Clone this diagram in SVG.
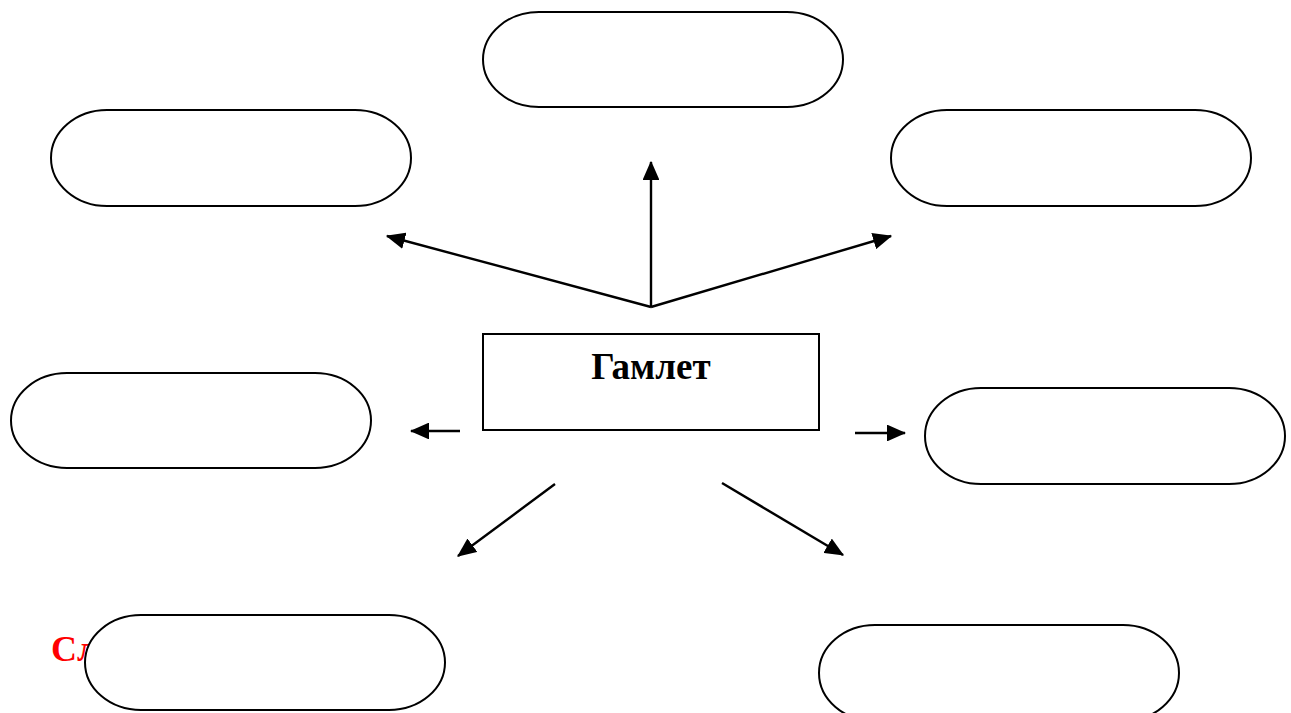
<svg xmlns="http://www.w3.org/2000/svg" width="1291" height="713" viewBox="0 0 1291 713">
<style>
.n{fill:#fff;stroke:#000;stroke-width:2}
.c{stroke:#000;stroke-width:2.4;fill:none;marker-end:url(#ah)}
.t{font-family:"Liberation Serif","Times New Roman",serif;font-weight:bold}
</style>
<defs>
<marker id="ah" markerWidth="8" markerHeight="7" refX="7.5" refY="3.5" orient="auto" markerUnits="strokeWidth">
<path d="M0,0 L8,3.5 L0,7 Z" fill="#000"/>
</marker>
</defs>
<rect width="1291" height="713" fill="#fff"/>
<text class="t" x="51" y="661" font-size="36" fill="#ff0000">Сл</text>
<g id="connectors">
<line class="c" x1="651" y1="307" x2="651" y2="162"/>
<line class="c" x1="651" y1="307" x2="387" y2="236"/>
<line class="c" x1="651" y1="307" x2="891" y2="236"/>
<line class="c" x1="460" y1="431" x2="411" y2="431"/>
<line class="c" x1="855" y1="433" x2="905" y2="433"/>
<line class="c" x1="555" y1="484" x2="458" y2="556"/>
<line class="c" x1="722" y1="483" x2="843" y2="555"/>
</g>
<g id="node-top"><rect class="n" x="483" y="12" width="360" height="95" rx="56" ry="47.5"/></g>
<g id="node-top-left"><rect class="n" x="51" y="110" width="360" height="96" rx="56" ry="48"/></g>
<g id="node-top-right"><rect class="n" x="891" y="110" width="360" height="96" rx="56" ry="48"/></g>
<g id="node-mid-left"><rect class="n" x="11" y="373" width="360" height="95" rx="56" ry="47.5"/></g>
<g id="node-mid-right"><rect class="n" x="925" y="388" width="360" height="96" rx="56" ry="48"/></g>
<g id="node-bottom-left"><rect class="n" x="85" y="615" width="360" height="95" rx="56" ry="47.5"/></g>
<g id="node-bottom-right"><rect class="n" x="819" y="625" width="360" height="96" rx="56" ry="48"/></g>
<g id="node-center">
<rect x="483" y="334" width="336" height="96" fill="#fff" stroke="#000" stroke-width="2"/>
<text class="t" x="651" y="379" font-size="37" text-anchor="middle">Гамлет</text>
</g>
</svg>
